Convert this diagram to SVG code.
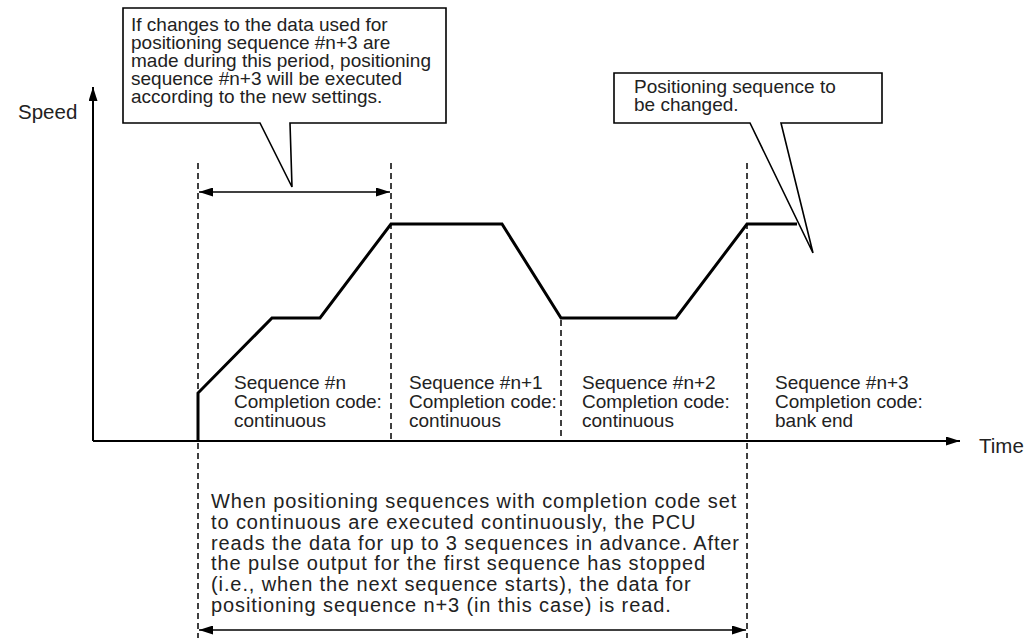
<svg xmlns="http://www.w3.org/2000/svg" width="1035" height="638" viewBox="0 0 1035 638">
<style>
text{font-family:"Liberation Sans",Arial,sans-serif;fill:#222;}
.t{font-size:19px;}
.b{font-size:20px;letter-spacing:0.9px;}
.ax{font-size:20.5px;}
.dash{stroke:#000;stroke-width:1.5;stroke-dasharray:6 4;fill:none;}
.axis{stroke:#000;stroke-width:2;fill:none;}
.prof{stroke:#000;stroke-width:3;fill:none;stroke-linejoin:miter;}
.call{fill:#fff;stroke:#000;stroke-width:1.6;}
.dim{stroke:#000;stroke-width:1.6;fill:none;}
</style>
<defs>
<marker id="ah" markerWidth="14" markerHeight="9" refX="14" refY="4.5" orient="auto-start-reverse" markerUnits="userSpaceOnUse">
<path d="M0,0 L14,4.5 L0,9 Z" fill="#000"/>
</marker>
</defs>
<rect width="1035" height="638" fill="#fff"/>
<g id="connectors">
<line class="dash" x1="198" y1="163" x2="198" y2="638"/>
<line class="dash" x1="391" y1="163" x2="391" y2="440"/>
<line class="dash" x1="561" y1="320" x2="561" y2="440"/>
<line class="dash" x1="747" y1="163" x2="747" y2="638"/>
<line class="axis" x1="93" y1="441" x2="93" y2="87" marker-end="url(#ah)"/>
<line class="axis" x1="93" y1="441" x2="960" y2="441" marker-end="url(#ah)"/>
<polyline class="prof" points="198,441 198,393 272,318 320,318 391,224 502,224 561,318 676,318 747,224 797,224"/>
<line class="dim" x1="199" y1="192" x2="390" y2="192" marker-start="url(#ah)" marker-end="url(#ah)"/>
<line class="dim" x1="199" y1="630" x2="746" y2="630" marker-start="url(#ah)" marker-end="url(#ah)"/>
</g>
<g id="axis-labels">
<text class="ax" x="18" y="119">Speed</text>
<text class="ax" x="979" y="453">Time</text>
</g>
<g id="callout-period">
<path class="call" d="M123,8 L446,8 L446,123 L290,123 L292,187 L260,123 L123,123 Z"/>
<text class="t" x="131" y="31">If changes to the data used for</text>
<text class="t" x="131" y="49">positioning sequence #n+3 are</text>
<text class="t" x="131" y="67">made during this period, positioning</text>
<text class="t" x="131" y="85">sequence #n+3 will be executed</text>
<text class="t" x="131" y="103">according to the new settings.</text>
</g>
<g id="callout-change">
<path class="call" d="M614,73 L882,73 L882,123 L781,123 L813,253 L750,123 L614,123 Z"/>
<text class="t" x="634" y="93">Positioning sequence to</text>
<text class="t" x="634" y="111">be changed.</text>
</g>
<g id="seq-n">
<text class="t" x="234" y="389">Sequence #n</text>
<text class="t" x="234" y="408">Completion code:</text>
<text class="t" x="234" y="427">continuous</text>
</g>
<g id="seq-n1">
<text class="t" x="409" y="389">Sequence #n+1</text>
<text class="t" x="409" y="408">Completion code:</text>
<text class="t" x="409" y="427">continuous</text>
</g>
<g id="seq-n2">
<text class="t" x="582" y="389">Sequence #n+2</text>
<text class="t" x="582" y="408">Completion code:</text>
<text class="t" x="582" y="427">continuous</text>
</g>
<g id="seq-n3">
<text class="t" x="775" y="389">Sequence #n+3</text>
<text class="t" x="775" y="408">Completion code:</text>
<text class="t" x="775" y="427">bank end</text>
</g>
<g id="note-advance">
<text class="b" x="211" y="508">When positioning sequences with completion code set</text>
<text class="b" x="211" y="529">to continuous are executed continuously, the PCU</text>
<text class="b" x="211" y="550">reads the data for up to 3 sequences in advance. After</text>
<text class="b" x="211" y="570">the pulse output for the first sequence has stopped</text>
<text class="b" x="211" y="591">(i.e., when the next sequence starts), the data for</text>
<text class="b" x="211" y="612">positioning sequence n+3 (in this case) is read.</text>
</g>
</svg>
